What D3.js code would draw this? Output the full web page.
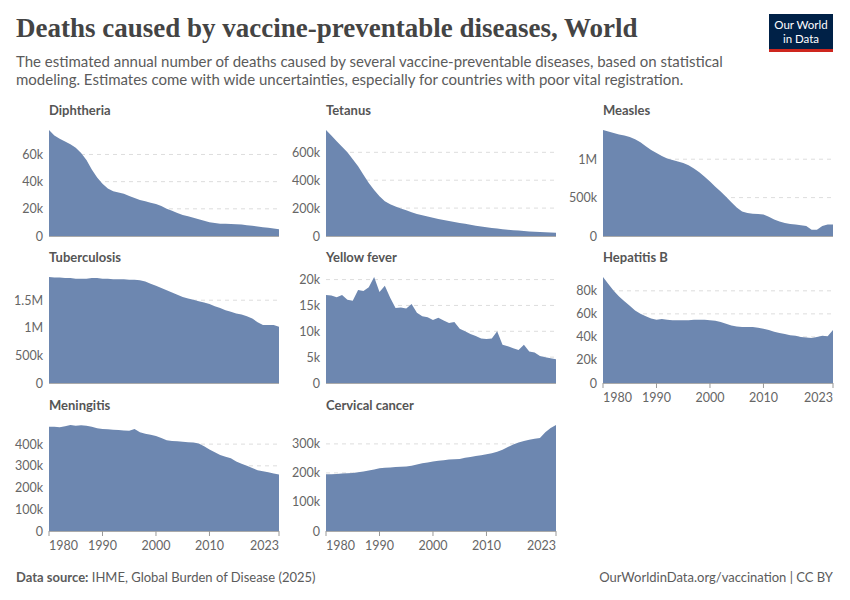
<!DOCTYPE html>
<html><head><meta charset="utf-8">
<script src="https://cdn.jsdelivr.net/npm/d3@7"></script>
<style>body{margin:0;background:#fff;font-family:Lato,"Noto Sans",sans-serif}</style>
</head><body><svg id="c" width="850" height="600"></svg>
<script>
const years = d3.range(1980, 2024);
const diphtheria = [78,74,71.5,69.5,67.5,65,61,56,49,43,38.5,35,33,32,31,29.5,28,26.5,25.5,24.5,23.5,22,20,18.5,17,15.5,14.5,13.5,12.3,11.2,10.2,9.5,9.1,9,8.9,8.7,8.4,8,7.5,7,6.5,6,5.5,5];
const tetanus = [760,720,680,640,600,550,500,440,380,330,285,250,228,212,198,184,170,158,148,139,130,122,115,108,101,94,87,80,74,68,62,57,53,49,45,42,39,36,33,31,29,27,25,23];
const measles = [1380,1360,1340,1320,1310,1290,1260,1220,1170,1120,1080,1040,1010,990,970,950,920,880,830,770,710,640,580,510,440,370,320,300,290,285,280,250,215,190,170,155,150,140,130,80,80,130,150,150];
const tuberculosis = [1.92,1.91,1.91,1.9,1.9,1.89,1.89,1.89,1.9,1.9,1.89,1.89,1.88,1.88,1.88,1.87,1.87,1.86,1.84,1.8,1.76,1.72,1.68,1.64,1.6,1.56,1.53,1.51,1.48,1.46,1.43,1.39,1.36,1.32,1.29,1.26,1.24,1.21,1.17,1.1,1.05,1.05,1.05,1.02];
const yellowFever = [17,16.9,16.6,17,16.1,15.9,18,17.8,18.5,20.5,17.6,18.8,16.5,14.5,14.6,14.4,15.3,13.6,12.9,12.7,12.2,12.6,12.1,11.6,11.8,10.5,10,9.5,9.1,8.6,8.5,8.6,10,7.4,7.1,6.7,6.4,7.4,6.1,5.9,5.2,5,4.8,4.6];
const hepatitisB = [92,86,80,75,71,67,63,60,58,56,55,55.5,55,54.5,54.5,54.5,54.5,55,55,55,54.5,54,53,51.5,50,49,48.5,48.5,48.5,48,47,46,44.5,43.5,42.5,41.5,41,40,39.5,39,40,41,40.5,46];
const meningitis = [480,480,478,482,488,485,487,484,480,473,470,468,466,465,463,462,470,455,448,443,437,428,418,414,413,411,409,407,403,390,375,362,350,342,335,320,310,300,290,280,275,270,265,260];
const cervical = [195,195,196,198,199,200,202,205,208,212,216,218,219,220,221,222,225,229,233,236,239,242,244,246,247,248,252,255,258,261,264,268,273,280,289,298,305,310,314,318,320,340,355,365];
const xTicks = [1980,1990,2000,2010,2023];

const panels = [
 {name:"Diphtheria", vals:diphtheria, mult:1e3, ticks:[0,20e3,40e3,60e3], col:0,row:0},
 {name:"Tetanus", vals:tetanus, mult:1e3, ticks:[0,200e3,400e3,600e3], col:1,row:0},
 {name:"Measles", vals:measles, mult:1e3, ticks:[0,500e3,1e6], col:2,row:0},
 {name:"Tuberculosis", vals:tuberculosis, mult:1e6, ticks:[0,500e3,1e6,1.5e6], col:0,row:1},
 {name:"Yellow fever", vals:yellowFever, mult:1e3, ticks:[0,5e3,10e3,15e3,20e3], col:1,row:1},
 {name:"Hepatitis B", vals:hepatitisB, mult:1e3, ticks:[0,20e3,40e3,60e3,80e3], col:2,row:1, xaxis:true},
 {name:"Meningitis", vals:meningitis, mult:1e3, ticks:[0,100e3,200e3,300e3,400e3], col:0,row:2, xaxis:true},
 {name:"Cervical cancer", vals:cervical, mult:1e3, ticks:[0,100e3,200e3,300e3], col:1,row:2, xaxis:true}
];
const fmt = v => v===0?"0": v>=1e6 ? (v/1e6)+"M" : (v/1e3)+"k";

const svg = d3.select("#c");
svg.append("text").attr("x",16).attr("y",37).attr("font-family","'Liberation Serif',serif").attr("font-size",27).attr("font-weight","bold").attr("fill","#444").text("Deaths caused by vaccine-preventable diseases, World");
const sub=["The estimated annual number of deaths caused by several vaccine-preventable diseases, based on statistical","modeling. Estimates come with wide uncertainties, especially for countries with poor vital registration."];
sub.forEach((s,i)=>svg.append("text").attr("x",16).attr("y",67+i*18).attr("font-size",15).attr("fill","#5b5b5b").text(s));
svg.append("rect").attr("x",769).attr("y",14).attr("width",64).attr("height",36).attr("fill","#002147");
svg.append("rect").attr("x",769).attr("y",49).attr("width",64).attr("height",3).attr("fill","#ce261e");
svg.append("text").attr("x",801).attr("y",29).attr("text-anchor","middle").attr("fill","#fff").attr("font-size",11.5).text("Our World");
svg.append("text").attr("x",801).attr("y",43).attr("text-anchor","middle").attr("fill","#fff").attr("font-size",11.5).text("in Data");
svg.append("text").attr("x",16).attr("y",582).attr("font-size",13).attr("fill","#5b5b5b").html('<tspan font-weight="bold">Data source:</tspan> IHME, Global Burden of Disease (2025)');
svg.append("text").attr("x",833).attr("y",582).attr("text-anchor","end").attr("font-size",13).attr("fill","#5b5b5b").text("OurWorldinData.org/vaccination | CC BY");

const colX=[49,326,603], w=230, rowBase=[236,383,531], h=106;
panels.forEach(p=>{
  const x0=colX[p.col], yb=rowBase[p.row];
  const data = years.map((y,i)=>({y, v:p.vals[i]*p.mult}));
  const x=d3.scaleLinear().domain([1980,2023]).range([x0,x0+w]);
  const y=d3.scaleLinear().domain([0,d3.max(data,d=>d.v)]).range([yb,yb-h]);
  const g=svg.append("g");
  g.append("text").attr("x",x0).attr("y",yb-121).attr("font-size",13).attr("font-weight","bold").attr("fill","#555").text(p.name);
  p.ticks.forEach(t=>{
    if(t>0) g.append("line").attr("x1",x0).attr("x2",x0+w).attr("y1",y(t)).attr("y2",y(t)).attr("stroke","#ddd").attr("stroke-dasharray","4,4");
    g.append("text").attr("x",x0-6).attr("y",y(t)+4.5).attr("text-anchor","end").attr("font-size",12.5).attr("fill","#666").text(fmt(t));
  });
  g.append("path").datum(data).attr("fill","#6d87b0")
   .attr("d",d3.area().x(d=>x(d.y)).y0(yb).y1(d=>y(d.v)));
  g.append("line").attr("x1",x0).attr("x2",x0+w).attr("y1",yb+0.5).attr("y2",yb+0.5).attr("stroke","#aaa");
  if(p.xaxis){
    xTicks.forEach((t,i)=>{
      g.append("line").attr("x1",x(t)).attr("x2",x(t)).attr("y1",yb).attr("y2",yb+5).attr("stroke","#999");
      g.append("text").attr("x",x(t)).attr("y",yb+19).attr("text-anchor",i==0?"start":i==xTicks.length-1?"end":"middle").attr("font-size",12.5).attr("fill","#666").text(t);
    });
  }
});
</script></body></html>
